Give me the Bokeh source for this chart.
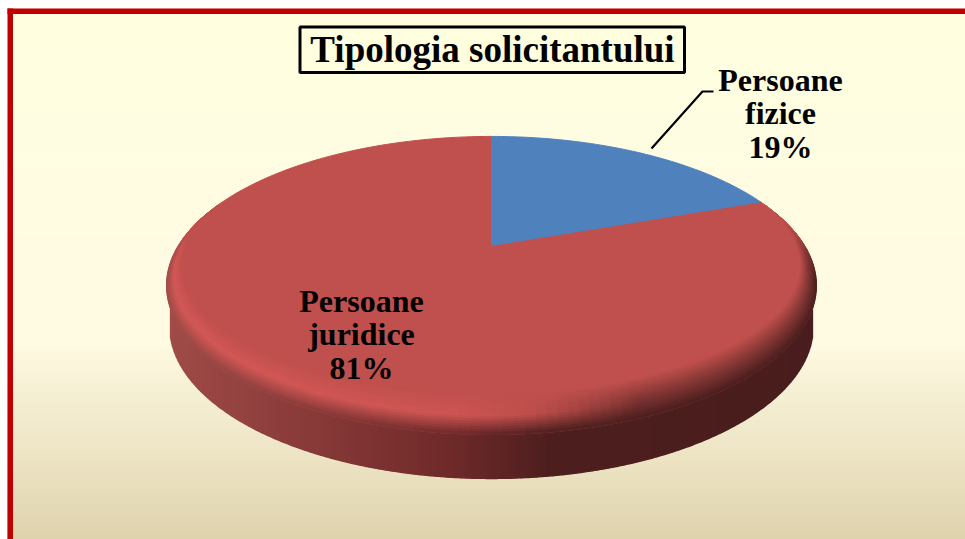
import numpy as np
from bokeh.plotting import figure
from bokeh.models import Range1d
from bokeh.core.properties import value
from bokeh.embed import file_html
from bokeh.resources import INLINE

# ---- data ----
categories = ["Persoane fizice", "Persoane juridice"]
shares = [19.4, 80.6]
slice_colors = ["#4F81BD", "#C0504D"]
title_text = "Tipologia solicitantului"
label_lines = [["Persoane", "fizice"], ["Persoane", "juridice"]]

# ---- layout (reference pixels) ----
W, H = 965, 539
CX, APEX_Y = 491.0, 245.0
OUT_CY, OUT_RX, OUT_RY = 285.0, 325.0, 149.0
IN_CY, IN_RX, IN_RY = 264.5, 309.0, 128.5
WALL_CY, WALL_RX, WALL_RY = 325.0, 322.0, 153.0
K = 0.268
PX, PY = 313.0, 138.3
BASE = 0.37  # offset of the alphabetic baseline in the svg output, in em

p = figure(width=W, height=H, x_range=Range1d(0, W), y_range=Range1d(H, 0),
           toolbar_location=None, output_backend="svg", min_border=0,
           outline_line_color=None, background_fill_color="white",
           border_fill_color=None)
p.axis.visible = False
p.grid.visible = False


def hexc(c):
    return "#%02x%02x%02x" % tuple(int(round(v)) for v in c)


def ramp(x, xs, cols):
    cols = np.array(cols, float)
    return np.array([np.interp(x, xs, cols[:, i]) for i in range(3)]).T


# background gradient
y_edges = np.arange(8, H + 2, 2)
bg = ramp(y_edges[:-1] + 1,
          [13, 200, 340, 400, 450, 539],
          [(255, 255, 224), (255, 252, 226), (255, 250, 226),
           (244, 238, 210), (238, 229, 198), (223, 211, 173)])
bgc = [hexc(c) for c in bg]
p.quad(left=7, right=W + 2, top=y_edges[:-1], bottom=y_edges[1:],
       fill_color=bgc, line_color=bgc, line_width=1)

# frame
p.quad(left=[7, 7], right=[12.5, W + 2], top=[8, 8], bottom=[H + 2, 13.5],
       fill_color="#C00000", line_color=None)


# side wall
def wall_color(x):
    return ramp(x, [170, 300, 450, 550, 820],
                [(160, 75, 72), (138, 60, 58), (112, 42, 42), (78, 31, 31), (74, 30, 30)])


x_edges = np.arange(170, 813, 2.0)
wall_y = WALL_CY + WALL_RY * np.sqrt(np.clip(1 - ((x_edges - CX) / WALL_RX) ** 2, 0, 1))
wc = [hexc(c) for c in wall_color(x_edges[:-1] + 1)]
p.patches([[a, b, b, a] for a, b in zip(x_edges[:-1], x_edges[1:])],
          [[OUT_CY, OUT_CY, yb, ya] for ya, yb in zip(wall_y[:-1], wall_y[1:])],
          fill_color=wc, line_color=wc, line_width=1.3)


# slices through a perspective view of the disc
def project(theta):
    X, Y = np.sin(theta), np.cos(theta)
    w = 1 + K * Y
    return CX + PX * X / w, APEX_Y - PY * Y / w


fractions = np.cumsum([0] + shares) / sum(shares)
th = np.linspace(2 * np.pi * fractions[1], 2 * np.pi * fractions[2], 240)
px_, py_ = project(th)
red_x, red_y = np.r_[CX, px_], np.r_[APEX_Y, py_]
th = np.linspace(2 * np.pi * fractions[0], 2 * np.pi * fractions[1], 120)
px_, py_ = project(th)
blue_x, blue_y = np.r_[CX, px_], np.r_[APEX_Y, py_]

p.patch(red_x, red_y, fill_color=slice_colors[1], line_color=slice_colors[1], line_width=1)

# bevelled rim
flat = np.array((192, 80, 77), float)
th_edges = np.radians(np.arange(62, 299, 2.0))
t_edges = np.linspace(0, 1, 17)
xs, ys, cs = [], [], []


def rim(th, t):
    rx = IN_RX + (OUT_RX - IN_RX) * t
    ry = IN_RY + (OUT_RY - IN_RY) * t
    cy = IN_CY + (OUT_CY - IN_CY) * t
    return CX + rx * np.sin(th), cy - ry * np.cos(th)


for a, b in zip(th_edges[:-1], th_edges[1:]):
    tm = (a + b) / 2
    xc = CX + OUT_RX * np.sin(tm)
    w = np.clip((0.45 - np.cos(tm)) / 0.45, 0, 1)
    w = w * w * (3 - 2 * w)
    mid = ramp(xc, [170, 450, 530, 640, 820],
               [(211, 88, 86), (206, 85, 83), (190, 78, 75), (125, 52, 50), (125, 52, 50)])
    outer = wall_color(xc)
    for t0, t1 in zip(t_edges[:-1], t_edges[1:]):
        t = (t0 + t1) / 2
        col = flat + (mid - flat) * (t / 0.55) if t < 0.55 else mid + (outer - mid) * ((t - 0.55) / 0.45)
        col = flat + (col - flat) * w
        x0, y0 = rim(a, t0)
        x1, y1 = rim(b, t0)
        x2, y2 = rim(b, t1)
        x3, y3 = rim(a, t1)
        xs.append([x0, x1, x2, x3])
        ys.append([y0, y1, y2, y3])
        cs.append(hexc(col))
p.patches(xs, ys, fill_color=cs, line_color=cs, line_width=1)

p.patch(blue_x, blue_y, fill_color=slice_colors[0], line_color=slice_colors[0], line_width=1)

# leader line
p.line([651, 702, 713], [148, 91, 91], line_color="black", line_width=2.2)

# title box and labels
p.quad(left=[299.5], right=[684], top=[26.5], bottom=[72], fill_color="#FFFFE0",
       line_color="black", line_width=3)
p.text([492], [63 - BASE * 37], text=[title_text], text_font=value("Liberation Serif"),
       text_font_style="bold", text_font_size="37px", text_color="black",
       text_align="center", text_baseline="alphabetic")

rows = [(780, [91, 124, 158], 0), (361, [312, 345, 379], 1)]
for cx, baselines, i in rows:
    lines = label_lines[i] + ["%d%%" % round(shares[i])]
    p.text([cx] * 3, [b - BASE * 32 for b in baselines], text=lines,
           text_font=value("Liberation Serif"),
           text_font_style="bold", text_font_size="32px", text_color="black",
           text_align="center", text_baseline="alphabetic")

open("out.html", "w").write(file_html(p, INLINE))
